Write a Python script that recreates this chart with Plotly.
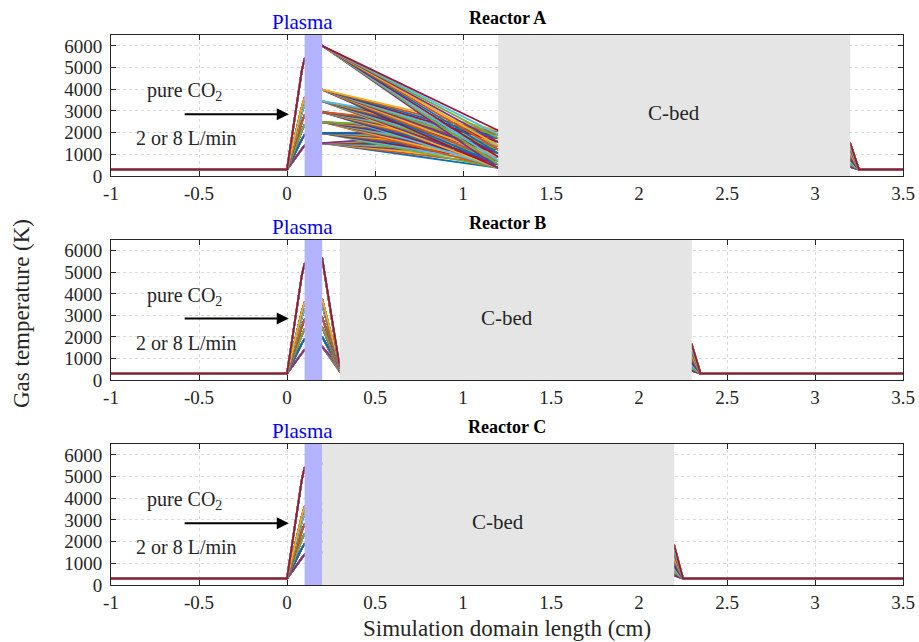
import plotly.graph_objects as go

# MATLAB default line colour order
LINE_COLORS = ["#0072BD", "#D95319", "#EDB120", "#7E2F8E", "#77AC30", "#4DBEEE", "#A2142F"]

T_FEED = 300  # feed gas temperature (K)

# Plasma-power groups (hottest first): temperatures approaching and leaving the plasma zone
pre_kink = [4900, 3200, 2950, 2500, 2100, 1700, 1250]
pre_peak = [5400, 3600, 3280, 2800, 2350, 1900, 1400]
post_A = [6000, 3980, 3450, 2950, 2490, 1980, 1520]
post_B = [5650, 3750, 3500, 2900, 2450, 2000, 1550]
post_C = [5600, 3750, 3450, 2900, 2450, 2000, 1500]

# Temperature at the C-bed inlet and outlet for each afterglow case
bed_in_A = [370, 540, 710, 880, 1050, 1230, 1400, 1570, 1750, 1920, 2100]
bed_out_A = [420, 530, 640, 750, 860, 970, 1080, 1190, 1300, 1410, 1520]
bed_in_B = [380, 400, 425, 450, 475, 500, 525, 550, 575, 600, 620]
bed_out_B = [430, 550, 670, 790, 910, 1030, 1150, 1270, 1390, 1510, 1650]
bed_out_C = [450, 590, 720, 860, 990, 1130, 1260, 1400, 1540, 1680, 1830]

# Geometry (cm)
domain = [-1.0, 3.5]
plasma_zone = [0.1, 0.2]
kink_pos = 0.085
cbed_A = [1.2, 3.2]
cbed_B = [0.3, 2.3]
cbed_C = [0.2, 2.2]
cooldown = 0.05

x_ticks = [-1, -0.5, 0, 0.5, 1, 1.5, 2, 2.5, 3, 3.5]
x_ticktext = ["-1", "-0.5", "0", "0.5", "1", "1.5", "2", "2.5", "3", "3.5"]
y_ticks = [0, 1000, 2000, 3000, 4000, 5000, 6000]
y_ticktext = ["0", "1000", "2000", "3000", "4000", "5000", "6000"]

reactors = [
    dict(name="Reactor A", post=post_A, bed=cbed_A, bed_in=bed_in_A, bed_out=bed_out_A),
    dict(name="Reactor B", post=post_B, bed=cbed_B, bed_in=bed_in_B, bed_out=bed_out_B),
    dict(name="Reactor C", post=post_C, bed=cbed_C, bed_in=None, bed_out=bed_out_C),
]

W, H = 919, 642
x_dom = [111 / W, 903 / W]
y_doms = [
    [1 - 176 / H, 1 - 35 / H],
    [1 - 380 / H, 1 - 240 / H],
    [1 - 585 / H, 1 - 444 / H],
]

SERIF = "Liberation Serif, Times New Roman, serif"
AX_COLOR = "#262626"

fig = go.Figure()
shapes = []
annotations = []

for r, rc in enumerate(reactors):
    sfx = "" if r == 0 else str(r + 1)
    xa, ya = "x" + sfx, "y" + sfx
    bed0, bed1 = rc["bed"]
    n_groups = len(pre_peak)
    n_cases = len(rc["bed_out"])
    k = 0
    for g in reversed(range(n_groups)):
        for j in range(n_cases):
            xs = [domain[0], 0.0, kink_pos, plasma_zone[0], plasma_zone[1]]
            ys = [T_FEED, T_FEED, pre_kink[g], pre_peak[g], rc["post"][g]]
            if rc["bed_in"] is not None:
                xs.append(bed0)
                ys.append(rc["bed_in"][j])
            xs += [bed1, bed1 + cooldown, domain[1]]
            ys += [rc["bed_out"][j], T_FEED, T_FEED]
            fig.add_trace(go.Scatter(
                x=xs, y=ys, xaxis=xa, yaxis=ya, mode="lines",
                line=dict(color=LINE_COLORS[k % len(LINE_COLORS)], width=1.8),
                hoverinfo="skip", showlegend=False,
            ))
            k += 1

    # plasma zone and carbon bed
    shapes.append(dict(type="rect", xref=xa, yref=ya, x0=plasma_zone[0], x1=plasma_zone[1],
                       y0=0, y1=6500, fillcolor="#B3B3FF", line=dict(width=0), layer="above"))
    shapes.append(dict(type="rect", xref=xa, yref=ya, x0=bed0, x1=bed1,
                       y0=0, y1=6500, fillcolor="#E5E5E5", line=dict(width=0), layer="above"))

    top_px = [35, 240, 444][r]
    annotations.append(dict(text="<b>%s</b>" % rc["name"], xref="paper", yref="paper",
                            x=507 / W, y=1 - (top_px - 17) / H, showarrow=False,
                            xanchor="center", yanchor="middle",
                            font=dict(family=SERIF, size=18, color="black")))
    annotations.append(dict(text="Plasma", xref=xa, yref="paper", x=0.09,
                            y=1 - (top_px - 13) / H, showarrow=False,
                            xanchor="center", yanchor="middle",
                            font=dict(family=SERIF, size=21, color="#0000FF")))
    annotations.append(dict(text="C-bed", xref=xa, yref=ya, x=[2.2, 1.25, 1.2][r], y=2900,
                            showarrow=False, xanchor="center", yanchor="middle",
                            font=dict(family=SERIF, size=21, color=AX_COLOR)))
    annotations.append(dict(text="pure CO<sub>2</sub>", xref=xa, yref=ya, x=-0.58, y=3900,
                            showarrow=False, xanchor="center", yanchor="middle",
                            font=dict(family=SERIF, size=20, color=AX_COLOR)))
    annotations.append(dict(text="2 or 8 L/min", xref=xa, yref=ya, x=-0.57, y=1730,
                            showarrow=False, xanchor="center", yanchor="middle",
                            font=dict(family=SERIF, size=20, color=AX_COLOR)))
    annotations.append(dict(text="", xref=xa, yref=ya, x=0.01, y=2850,
                            axref=xa, ayref=ya, ax=-0.59, ay=2850, showarrow=True,
                            arrowhead=2, arrowsize=1.2, arrowwidth=2, arrowcolor="black"))

    axis_common = dict(showline=True, linecolor=AX_COLOR, linewidth=1, mirror="ticks",
                       ticks="inside", ticklen=5, tickcolor=AX_COLOR, tickwidth=1,
                       showgrid=True, gridcolor="#D9D9D9", griddash="dot", gridwidth=1,
                       zeroline=False, automargin=False,
                       tickfont=dict(family=SERIF, size=19, color=AX_COLOR))
    fig.layout["xaxis" + sfx] = dict(domain=x_dom, range=domain, anchor=ya,
                                     tickvals=x_ticks, ticktext=x_ticktext, **axis_common)
    fig.layout["yaxis" + sfx] = dict(domain=y_doms[r], range=[0, 6500], anchor=xa,
                                     tickvals=y_ticks, ticktext=y_ticktext,
                                     ticklabelstandoff=4, **axis_common)

annotations.append(dict(text="Simulation domain length (cm)", xref="paper", yref="paper",
                        x=507 / W, y=1 - 628 / H, showarrow=False,
                        xanchor="center", yanchor="middle",
                        font=dict(family=SERIF, size=23, color=AX_COLOR)))
annotations.append(dict(text="Gas temperature (K)", xref="paper", yref="paper",
                        x=22 / W, y=1 - 314 / H, showarrow=False, textangle=-90,
                        xanchor="center", yanchor="middle",
                        font=dict(family=SERIF, size=23, color=AX_COLOR)))

fig.update_layout(width=W, height=H, margin=dict(l=0, r=0, t=0, b=0, autoexpand=False),
                  paper_bgcolor="white", plot_bgcolor="white",
                  shapes=shapes, annotations=annotations, showlegend=False)

fig.write_html("out.html")
